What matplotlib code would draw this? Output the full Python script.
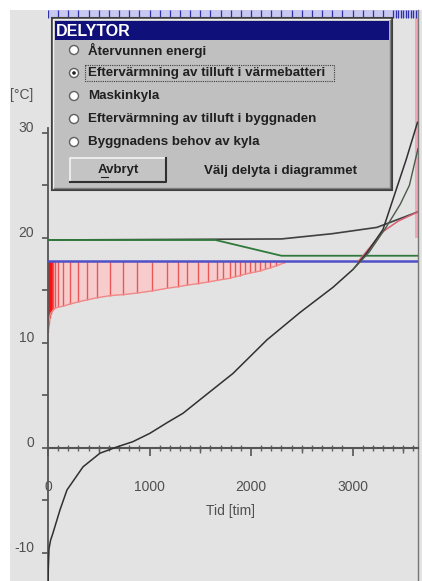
import matplotlib
matplotlib.use("Agg")
import matplotlib.pyplot as plt
from matplotlib.patches import Rectangle, Circle
from matplotlib.transforms import ScaledTranslation
import numpy as np

plt.rcParams['font.family'] = ['Liberation Sans', 'DejaVu Sans']
plt.rcParams['axes.unicode_minus'] = False

# ---- data ----
out_hours = [0, 3, 10, 25, 49, 118, 187, 345, 512, 680, 837, 1005, 1172, 1330, 1498,
             1823, 2158, 2483, 2808, 3005, 3143, 3300, 3420, 3530, 3640]
out_temp = [-14.0, -11.5, -9.6, -8.8, -8.1, -5.9, -4.0, -1.8, -0.5, 0.1, 0.6, 1.4, 2.4, 3.3, 4.6,
            7.1, 10.3, 12.9, 15.3, 17.0, 18.6, 20.8, 24.3, 27.5, 31.0]

hx_hours = [3005, 3160, 3330, 3470, 3560, 3645]
hx_temp = [17.0, 18.6, 21.0, 23.2, 25.0, 28.5]

upper_hours = [0, 2300, 2800, 3240, 3650]
upper_temp = [19.8, 19.9, 20.4, 21.0, 22.5]

green_hours = [0, 1650, 2300, 3650]
green_temp = [19.8, 19.8, 18.3, 18.3]

blue_level = 17.8

red_up_hours = [3060, 3300, 3450, 3650]
red_up_temp = [17.8, 20.6, 21.6, 22.5]

heat_hours = [0, 4, 8, 12, 16, 20, 25, 32, 40, 49, 70, 99, 148, 217, 296, 384, 483, 611,
              739, 877, 1025, 1172, 1281, 1369, 1478, 1576, 1665, 1724, 1793, 1842, 1892,
              1941, 1990, 2039, 2089, 2138, 2190, 2250, 2320]
heat_temp = [11.0, 11.4, 11.8, 12.1, 12.4, 12.6, 12.8, 12.9, 13.0, 13.1, 13.3, 13.4, 13.5,
             13.7, 13.9, 14.1, 14.3, 14.5, 14.6, 14.75, 14.95, 15.2, 15.35, 15.5, 15.65,
             15.8, 15.95, 16.05, 16.15, 16.3, 16.4, 16.55, 16.65, 16.75, 16.85, 17.0,
             17.15, 17.35, 17.6]

cool_hours = [3615, 3650]
cool_low, cool_high = 20.0, 41.7

top_band_hours = list(range(0, 3400, 100)) + list(range(3400, 3650, 25))
top_band_low, top_band_high = 40.9, 41.7

xticks_major = [0, 1000, 2000, 3000]
xticks_mid = [500, 1500, 2500, 3500]
yticks_major = [-10, 0, 10, 20, 30]

radio_labels = ["Återvunnen energi",
                "Eftervärmning av tilluft i värmebatteri",
                "Maskinkyla",
                "Eftervärmning av tilluft i byggnaden",
                "Byggnadens behov av kyla"]
selected = 1

# ---- figure ----
W, H = 422, 581
fig = plt.figure(figsize=(W / 100, H / 100), dpi=100, facecolor='white')
bg = '#e3e3e3'

under = fig.add_axes([0, 0, 1, 1], zorder=-5)
under.set_xlim(0, W)
under.set_ylim(H, 0)
under.axis('off')
under.add_patch(Rectangle((10, 10), W - 10, H - 10, facecolor=bg, edgecolor='none'))

ax = fig.add_axes([48 / W, 0, 370 / W, (H - 10) / H], zorder=1)
ax.set_facecolor(bg)
ax.set_xlim(0, 3645)
ax.set_ylim(-12.67, 41.7)

# red heating area
ax.fill_between(heat_hours, heat_temp, blue_level, color='#f6cccc', lw=0, zorder=1)
ax.vlines(heat_hours, heat_temp, blue_level, color='#e85858', lw=1, zorder=2)
ax.fill_between(heat_hours[:9], heat_temp[:9], blue_level, color='#ff1010', lw=0, zorder=2)
ax.plot(heat_hours, heat_temp, color='#f08888', lw=1, zorder=2)

# cooling band right edge
ax.fill_between(cool_hours, cool_low, cool_high, color='#f2a8b4', lw=0, zorder=1)

# top blue band
ax.fill_between([0, 3650], top_band_low, top_band_high, color='#c8c8f0', lw=0, zorder=1)
ax.vlines(top_band_hours, top_band_low, top_band_high, color='#3030a8', lw=0.9, zorder=2)

# lines
ax.axhline(blue_level, color='#5050c8', lw=1.8, zorder=3)
ax.plot(upper_hours, upper_temp, color='#404040', lw=1.2, zorder=3)
ax.plot(green_hours, green_temp, color='#2f7a3a', lw=1.3, zorder=4)
ax.plot(red_up_hours, red_up_temp, color='#d86070', lw=1.1, zorder=4)
ax.plot(out_hours, out_temp, color='#303030', lw=1.1, zorder=5)
ax.plot(hx_hours, hx_temp, color='#4a5a4a', lw=1.0, zorder=5)

# axes styling
ax.spines['top'].set_visible(False)
ax.spines['bottom'].set_position(('data', 0))
ax.spines['bottom'].set_color('#555555')
ax.spines['bottom'].set_linewidth(1.5)
ax.spines['left'].set_color('#555555')
ax.spines['left'].set_linewidth(1.3)
ax.spines['left'].set_bounds(-12.67, 30.5)
ax.spines['right'].set_color('#777777')
ax.spines['right'].set_linewidth(1.0)

ax.set_xticks(xticks_major)
ax.set_xticks(np.arange(0, 3650, 100), minor=True)
ax.tick_params(axis='x', which='major', direction='out', length=6, width=1.2,
               color='#555555', pad=17, labelsize=10, labelcolor='#505050')
ax.tick_params(axis='x', which='minor', direction='inout', length=4, width=1,
               color='#606060')
# medium ticks at the half-thousands
ax.vlines(xticks_mid, -0.45, 0, color='#606060', lw=1, zorder=3, clip_on=False)

ax.set_yticks(yticks_major)
ax.set_yticks([-5, 5, 15, 25], minor=True)
ax.tick_params(axis='y', which='both', direction='out', length=4, width=1.2,
               color='#555555', pad=6, labelsize=10, labelcolor='#505050')
for lab in ax.get_yticklabels():
    lab.set_transform(lab.get_transform() + ScaledTranslation(0, 6 / 100, fig.dpi_scale_trans))

ax.text(1800, -6.0, "Tid [tim]", ha='center', va='center', fontsize=10, color='#505050')

# ---- overlay in pixel coordinates ----
ov = fig.add_axes([0, 0, 1, 1], zorder=10)
ov.set_xlim(0, W)
ov.set_ylim(H, 0)
ov.axis('off')
ov.patch.set_visible(False)

ov.text(22, 95, "[°C]", ha='center', va='center', fontsize=10, color='#505050')

# dialog
x0, y0, x1, y1 = 52, 18, 392, 190
ov.add_patch(Rectangle((x0, y0), x1 - x0, y1 - y0, facecolor='#c0c0c0',
                       edgecolor='#404040', lw=1.5, zorder=10))
ov.plot([x0 + 1, x0 + 1, x1 - 2], [y1 - 2, y0 + 1, y0 + 1], color='#f0f0f0', lw=1, zorder=11)
ov.plot([x0 + 2, x1 - 2, x1 - 2], [y1 - 2, y1 - 2, y0 + 2], color='#808080', lw=1, zorder=11)
ov.add_patch(Rectangle((x0 + 3, y0 + 3), x1 - x0 - 6, 19, facecolor='#10107a',
                       edgecolor='none', zorder=12))
ov.text(x0 + 4, y0 + 13, "DELYTOR", ha='left', va='center', fontsize=11.5,
        fontweight='bold', color='white', zorder=13)

rows = [50, 73, 96, 119, 142]
for i, (lab, ry) in enumerate(zip(radio_labels, rows)):
    ov.add_patch(Circle((74, ry), 4.5, facecolor='white', edgecolor='#606060', lw=1, zorder=12))
    if i == selected:
        ov.add_patch(Circle((74, ry), 1.8, facecolor='#202020', edgecolor='none', zorder=13))
    ov.text(88, ry, lab, ha='left', va='center', fontsize=9.6, fontweight='bold',
            color='#202020', zorder=13)
ov.add_patch(Rectangle((85, rows[selected] - 8), 249, 16, facecolor='none',
                       edgecolor='#404040', lw=0.8, ls=(0, (1, 1)), zorder=13))

# button
bx0, by0, bx1, by1 = 70, 158, 166, 182
ov.add_patch(Rectangle((bx0, by0), bx1 - bx0, by1 - by0, facecolor='#c4c4c4',
                       edgecolor='none', zorder=12))
ov.plot([bx0, bx0, bx1], [by1, by0, by0], color='#f4f4f4', lw=1.2, zorder=13)
ov.plot([bx0, bx1, bx1], [by1, by1, by0], color='#303030', lw=1.5, zorder=13)
ov.text((bx0 + bx1) / 2, 170, "Avbryt", ha='center', va='center', fontsize=9.5,
        fontweight='bold', color='#202020', zorder=14)
ov.plot([101, 108], [177, 177], color='#202020', lw=0.8, zorder=14)
ov.text(280, 171, "Välj delyta i diagrammet", ha='center', va='center', fontsize=9.6,
        fontweight='bold', color='#202020', zorder=13)

fig.savefig("out.png", dpi=100, facecolor='white')
